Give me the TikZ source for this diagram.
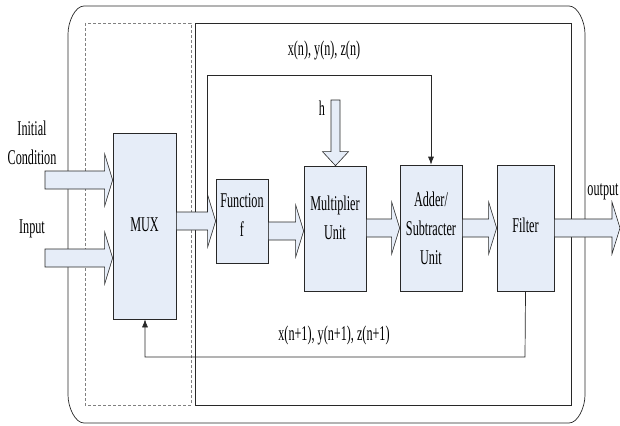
\documentclass[tikz,border=0pt]{standalone}
\usepackage{fontspec}
\setmainfont{Liberation Serif}[FakeStretch=0.58]
\usetikzlibrary{calc,arrows.meta}
\definecolor{boxfill}{RGB}{230,237,248}
\definecolor{edge}{RGB}{40,40,40}
\newcommand{\fs}{\fontsize{21}{29}\selectfont}
% horizontal block arrow: #2 start anchor, #3 tip anchor, #4 y of the axis
\newcommand{\fatarr}[4][]{%
  \draw[fat,#1] let \p1=(#2), \p2=(#3), \p3=(0,#4) in
   (\x1,\y3+9pt) -- (\x2-8pt,\y3+9pt) -- (\x2-8pt,\y3+26pt) -- (\x2,\y3)
   -- (\x2-8pt,\y3-26pt) -- (\x2-8pt,\y3-9pt) -- (\x1,\y3-9pt) -- cycle;}
\begin{document}
\begin{tikzpicture}[x=1pt,y=-1pt,
  box/.style={draw=edge,fill=boxfill,line width=0.7pt,inner sep=0pt},
  txt/.style={font=\fs,align=center,inner sep=0pt},
  fat/.style={draw=edge,fill=boxfill,line width=0.6pt,line join=miter},
  frame/.style={draw=edge,line width=0.7pt},
  dashframe/.style={draw=gray,line width=0.7pt,dash pattern=on 3pt off 2pt},
  sig/.style={draw=edge,line width=0.7pt},
  sigarr/.style={sig,-{Latex[length=8pt,width=6pt]}}]
\useasboundingbox (0,0) rectangle (620,425);

% frames
\draw[frame] (84,6) -- (569,6) .. controls (577.8,6) and (585,21.5) .. (585,34)
  -- (585,395) .. controls (585,407.5) and (577.8,423) .. (569,423)
  -- (84,423) .. controls (75.2,423) and (68,407.5) .. (68,395)
  -- (68,34) .. controls (68,21.5) and (75.2,6) .. cycle;
\draw[dashframe] (85,23) rectangle (191,405);
\draw[frame] (195,23) rectangle (571,405);

% blocks
\node[box,minimum width=63pt,minimum height=186pt,
  label={[txt,yshift=1pt]center:MUX}] (mux) at (144.5,226) {};
\node[box,minimum width=52pt,minimum height=84pt,
  label={[txt,yshift=6pt]center:Function\\f}] (fn) at (242,221) {};
\node[box,minimum width=62pt,minimum height=125pt,
  label={[txt,yshift=11pt]center:Multiplier\\Unit}] (mult) at (335,228.5) {};
\node[box,minimum width=62pt,minimum height=126pt,
  label={[txt]center:Adder/\\Subtracter\\Unit}] (add) at (431,228) {};
\node[box,minimum width=57pt,minimum height=126pt,
  label={[txt,yshift=3pt]center:Filter}] (filt) at (525.5,228) {};

% input labels and free ends
\node[txt] (iclab) at (32,143) {Initial\\Condition};
\node[txt] (inlab) at (32,229) {Input};
\node[txt] (outlab) at (603,192) {output};
\node[txt] (hlab) at (322,108) {h};
\node[txt] (toplab) at (324,50) {x(n), y(n), z(n)};
\node[txt] (botlab) at (334,335) {x(n+1), y(n+1), z(n+1)};
\coordinate (icstart) at (45,180);
\coordinate (instart) at (45,258);
\coordinate (outtip) at (620,228);
\coordinate (htop) at (335.5,100);
\coordinate (tapA) at (207,212);
\coordinate (tapB) at (207,75);
\coordinate (tapC) at (431,75);
\coordinate (fbA) at (525,357);
\coordinate (fbB) at (145,357);

% block arrows
\fatarr{icstart}{mux.west}{180}
\fatarr{instart}{mux.west}{258}
\fatarr{mux.east}{fn.west}{221}
\fatarr{fn.east}{mult.west}{231}
\fatarr{mult.east}{add.west}{228}
\fatarr{add.east}{filt.west}{228}
\fatarr{filt.east}{outtip}{228}
\draw[fat] let \p1=(htop), \p2=(mult.north) in
  (\x1-4.5pt,\y1) -- (\x1+4.5pt,\y1) -- (\x1+4.5pt,\y2+14pt) -- (\x1+13pt,\y2+14pt)
  -- (\x1,\y2) -- (\x1-13pt,\y2+14pt) -- (\x1-4.5pt,\y2+14pt) -- cycle;

% signal lines
\draw[sigarr] (tapA) -- (tapB) -- (tapC) -- (add.north);
\draw[sigarr] (filt.south) -- (fbA) -- (fbB) -- (mux.south -| fbB);
\end{tikzpicture}
\end{document}
